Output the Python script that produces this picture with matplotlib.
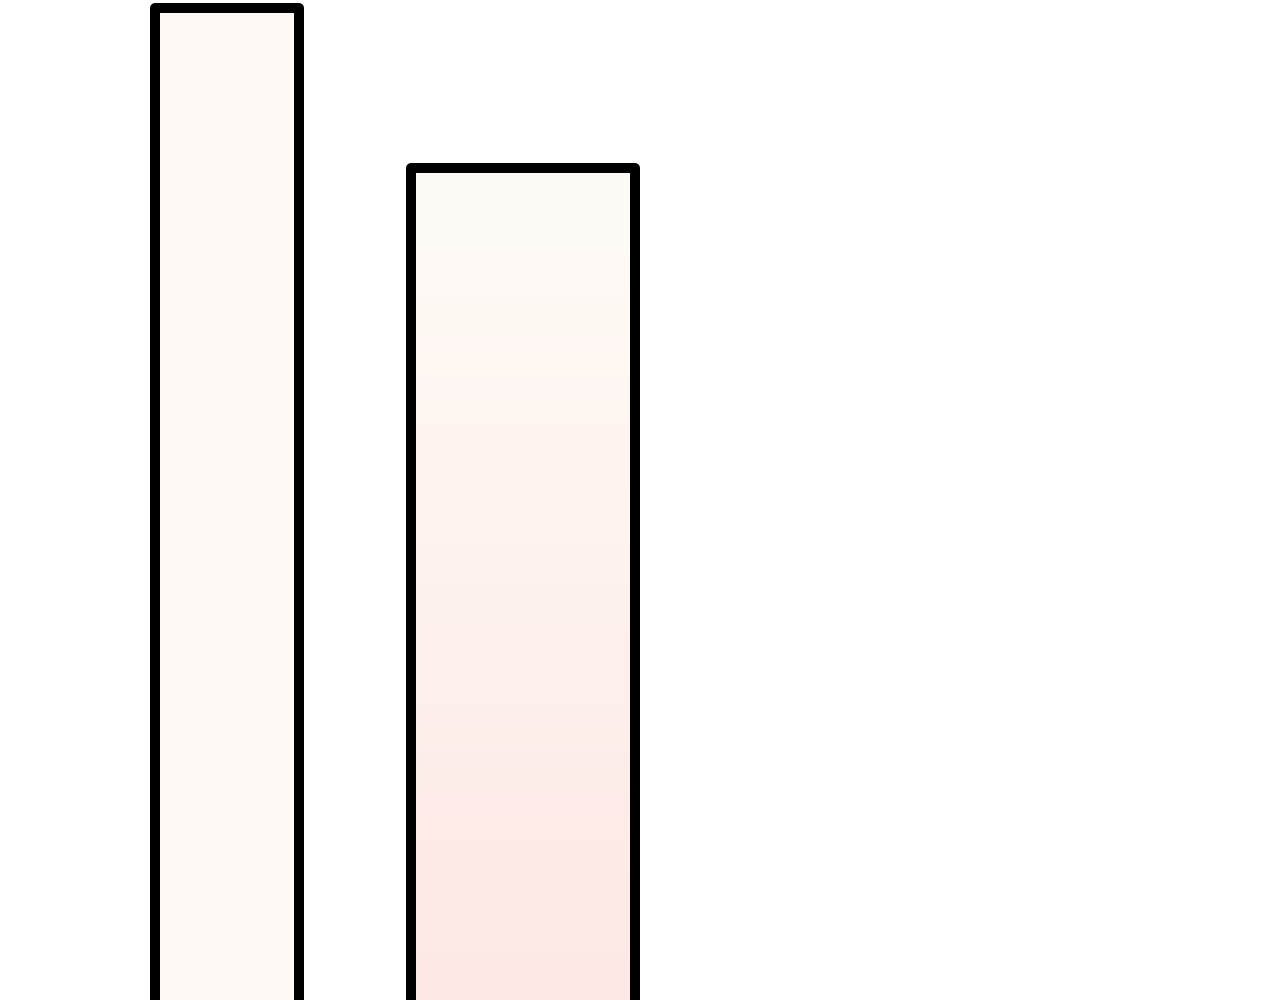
import numpy as np
import matplotlib
matplotlib.use("Agg")
import matplotlib.pyplot as plt
from matplotlib.colors import LinearSegmentedColormap

# bar values (only the tops are visible, the base is below the frame)
labels = ["A", "B"]
values = [99.2, 83.2]

# layout
centers = [227, 523]
widths = [144, 224]

fig = plt.figure(figsize=(12.8, 10), dpi=100)
ax = fig.add_axes([0, 0, 1, 1])
ax.set_xlim(0, 1280)
ax.set_ylim(0, 100)
ax.axis("off")

bars = ax.bar(centers, [v + 5 for v in values], width=widths, bottom=-5,
              facecolor="#FFFAF6", edgecolor="black", linewidth=7.2)
for b in bars:
    b.set_joinstyle("round")

# gradient on the second bar: cream at the top, light pink at the bottom
cmap = LinearSegmentedColormap.from_list("g", ["#FDE8E5", "#FFFCF7"])
b2 = bars[1]
grad = np.linspace(0, 1, 256).reshape(-1, 1)
x0 = centers[1] - widths[1] / 2
im = ax.imshow(grad, cmap=cmap, aspect="auto", origin="lower",
               extent=[x0, x0 + widths[1], 0, values[1]], zorder=1.5)
im.set_clip_path(b2)
b2.set_facecolor("none")
b2.set_zorder(2)

fig.savefig("out.png", dpi=100)
